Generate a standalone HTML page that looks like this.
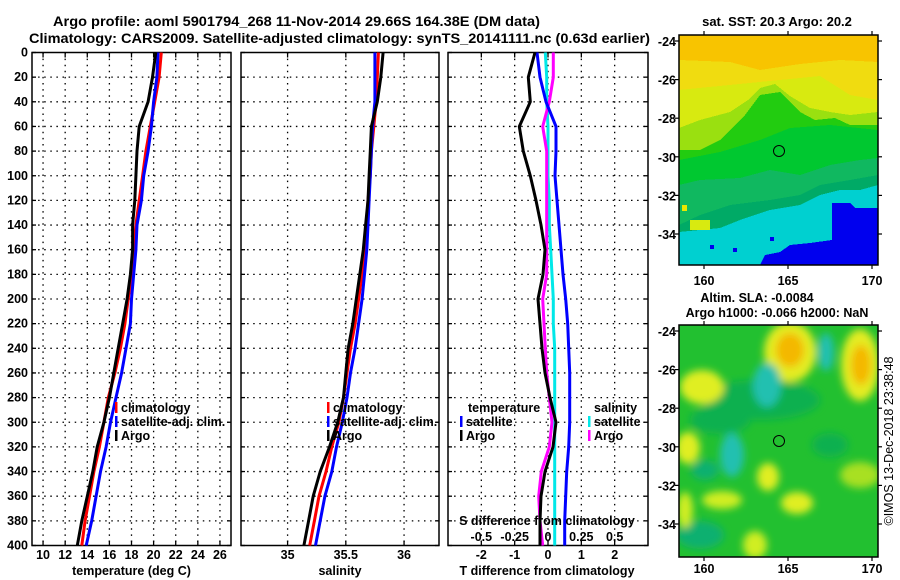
<!DOCTYPE html>
<html><head><meta charset="utf-8"><style>
html,body{margin:0;padding:0;background:#fff;}
svg{display:block;font-family:"Liberation Sans",Arial,sans-serif;font-weight:bold;}
</style></head><body>
<svg id="fig" width="900" height="580" viewBox="0 0 900 580" xmlns="http://www.w3.org/2000/svg">
<defs>
<filter id="blur6" x="-50%" y="-50%" width="200%" height="200%"><feGaussianBlur stdDeviation="4"/></filter>
<clipPath id="clipTop"><rect x="679" y="35" width="199" height="230"/></clipPath>
<clipPath id="clipBot"><rect x="679" y="325" width="199" height="232"/></clipPath>
</defs>
<text x="53" y="26" font-size="14" textLength="487" lengthAdjust="spacingAndGlyphs">Argo profile: aoml 5901794_268 11-Nov-2014 29.66S 164.38E (DM data)</text>
<text x="29" y="43" font-size="14" textLength="621" lengthAdjust="spacingAndGlyphs">Climatology: CARS2009. Satellite-adjusted climatology: synTS_20141111.nc (0.63d earlier)</text>

<!-- SST map -->
<g clip-path="url(#clipTop)" shape-rendering="crispEdges">
<rect x="679" y="35" width="199" height="230" fill="#f8c400"/>
<polygon fill="#d8ea10" points="679,72 720,70 760,78 790,74 820,76 850,95 878,100 878,265 679,265"/>
<polygon fill="#f0dc10" points="679,60 730,62 760,70 800,64 840,60 878,62 878,100 850,95 820,76 679,90"/>
<polygon fill="#9ae010" points="679,128 700,120 730,112 748,100 760,88 775,84 790,96 810,108 830,112 850,115 878,112 878,265 679,265"/>
<polygon fill="#22cc10" points="679,150 700,150 720,140 745,115 760,95 780,92 800,112 815,120 835,118 850,125 878,125 878,265 679,265"/>
<polygon fill="#00c830" points="679,160 720,152 760,140 790,128 830,125 878,130 878,265 679,265"/>
<polygon fill="#10b860" points="679,185 700,180 740,178 770,170 800,175 830,165 860,160 878,158 878,265 679,265"/>
<polygon fill="#00aa66" points="679,225 700,215 730,205 770,200 800,195 820,185 850,180 878,175 878,265 679,265"/>
<polygon fill="#00d0d0" points="679,232 720,228 740,220 770,210 800,205 820,195 840,190 860,190 878,185 878,265 679,265"/>
<polygon fill="#0000ee" points="832,203 850,203 855,208 878,208 878,265 760,265 765,255 780,252 790,245 810,243 832,240"/>
<rect x="682" y="205" width="5" height="6" fill="#e8e800"/>
<rect x="690" y="220" width="20" height="10" fill="#d8ea10"/>
<rect x="710" y="245" width="4" height="4" fill="#0000ee"/>
<rect x="733" y="248" width="4" height="4" fill="#0000ee"/>
<rect x="770" y="237" width="4" height="4" fill="#0000ee"/>
</g>
<rect x="679" y="35" width="199" height="230" fill="none" stroke="#000" stroke-width="1.5"/>
<circle cx="779" cy="151" r="5.5" fill="none" stroke="#000" stroke-width="1"/>

<!-- SLA map -->
<g clip-path="url(#clipBot)">
<rect x="679" y="325" width="199" height="232" fill="#22c030"/>
<g filter="url(#blur6)">
<ellipse cx="760" cy="400" rx="60" ry="20" fill="#10b050"/>
<ellipse cx="720" cy="420" rx="30" ry="14" fill="#10b050"/>
<ellipse cx="830" cy="445" rx="18" ry="12" fill="#10b050"/>
<ellipse cx="700" cy="535" rx="24" ry="14" fill="#10b070"/>
<ellipse cx="790" cy="352" rx="26" ry="30" fill="#e4ec20"/>
<ellipse cx="790" cy="350" rx="14" ry="17" fill="#f4b800"/>
<ellipse cx="860" cy="365" rx="19" ry="36" fill="#e4ec20"/>
<ellipse cx="861" cy="365" rx="10" ry="20" fill="#f4b800"/>
<ellipse cx="702" cy="387" rx="22" ry="17" fill="#e0ee20"/>
<ellipse cx="767" cy="385" rx="14" ry="22" fill="#20c0b0"/>
<ellipse cx="826" cy="352" rx="8" ry="19" fill="#20c0b0"/>
<ellipse cx="732" cy="455" rx="12" ry="22" fill="#20c0b0"/>
<ellipse cx="705" cy="470" rx="14" ry="10" fill="#10b070"/>
<ellipse cx="688" cy="448" rx="12" ry="16" fill="#e0ee20"/>
<ellipse cx="768" cy="477" rx="11" ry="14" fill="#e0ee20"/>
<ellipse cx="797" cy="503" rx="16" ry="11" fill="#e0ee20"/>
<ellipse cx="722" cy="500" rx="20" ry="9" fill="#d0ee20"/>
<ellipse cx="860" cy="475" rx="20" ry="13" fill="#a8e020"/>
<ellipse cx="755" cy="545" rx="12" ry="14" fill="#d0ee20"/>
<ellipse cx="685" cy="510" rx="8" ry="18" fill="#d0ee20"/>
</g>
</g>
<rect x="679" y="325" width="199" height="232" fill="none" stroke="#000" stroke-width="1.5"/>
<circle cx="779" cy="441" r="5.5" fill="none" stroke="#000" stroke-width="1"/>

<text x="777" y="26" font-size="13" text-anchor="middle">sat. SST: 20.3 Argo: 20.2</text>
<text x="757" y="302" font-size="12.5" text-anchor="middle">Altim. SLA: -0.0084</text>
<text x="777" y="317" font-size="12.5" text-anchor="middle">Argo h1000: -0.066 h2000: NaN</text>
<text transform="translate(893,441) rotate(-90)" font-size="12.5" font-weight="normal" text-anchor="middle">©IMOS 13-Dec-2018 23:38:48</text>
<g id="maplabels"></g>
<g id="panels"></g>
</svg>
<script>
// ---- data (depth grid in dbar) ----
const depths = [0,20,40,60,80,100,120,140,160,180,200,220,240,260,280,300,320,340,360,380,400];
const depthTicks = [0,20,40,60,80,100,120,140,160,180,200,220,240,260,280,300,320,340,360,380,400];
const tempTicks = [10,12,14,16,18,20,22,24,26];
const salTicks = [35,35.5,36];
const salTickLabels = ["35","35.5","36"];
const tdiffTicks = [-2,-1,0,1,2];
const sdiffTicks = [-0.5,-0.25,0,0.25,0.5];
const sdiffTickLabels = ["-0.5","-0.25","0","0.25","0.5"];

const tempClim = [20.7,20.5,20.1,19.7,19.3,19.0,18.7,18.4,18.2,18.0,17.7,17.4,17.0,16.5,15.9,15.5,15.1,14.6,14.2,13.8,13.5];
const tempSat  = [20.4,20.3,20.0,19.8,19.5,19.1,18.9,18.5,18.4,18.2,18.0,17.9,17.5,17.1,16.6,16.1,15.7,15.2,14.8,14.4,13.9];
const tempArgo = [20.2,19.9,19.5,18.7,18.5,18.4,18.3,18.1,18.1,17.9,17.6,17.2,16.8,16.4,16.0,15.5,14.9,14.5,14.0,13.5,13.1];

const salClim = [35.78,35.77,35.76,35.74,35.72,35.71,35.69,35.68,35.66,35.64,35.61,35.58,35.54,35.51,35.48,35.44,35.38,35.33,35.27,35.23,35.19];
const salSat  = [35.75,35.75,35.75,35.73,35.72,35.71,35.70,35.69,35.68,35.66,35.64,35.61,35.58,35.54,35.51,35.47,35.42,35.38,35.32,35.28,35.24];
const salArgo = [35.82,35.80,35.77,35.72,35.71,35.70,35.69,35.67,35.65,35.62,35.59,35.56,35.52,35.50,35.48,35.43,35.36,35.28,35.22,35.18,35.14];

const tdiffSat  = [-0.33,-0.24,-0.06,0.24,0.24,0.21,0.27,0.33,0.39,0.45,0.53,0.59,0.62,0.65,0.65,0.65,0.62,0.56,0.53,0.50,0.50];
const tdiffArgo = [-0.39,-0.59,-0.53,-0.86,-0.74,-0.53,-0.36,-0.21,-0.09,-0.15,-0.30,-0.24,-0.18,-0.09,0.06,0.24,0.15,-0.09,-0.21,-0.24,-0.24];
const sdiffSat  = [-0.02,-0.01,-0.01,0,0,0,0.01,0.01,0.02,0.03,0.04,0.04,0.05,0.05,0.05,0.05,0.05,0.05,0.05,0.05,0.05];
const sdiffArgo = [0.04,0.04,0.01,-0.04,-0.01,-0.01,-0.01,-0.01,-0.01,-0.01,-0.04,-0.03,-0.02,-0.01,0.01,0.03,0.01,-0.05,-0.07,-0.06,-0.04];

const latTicks = [-24,-26,-28,-30,-32,-34];
const lonTicks = [160,165,170];

const NS = "http://www.w3.org/2000/svg";
const Y0 = 52.5, Y1 = 545.5, DMAX = 400;
function yScale(d){ return Y0 + (d / DMAX) * (Y1 - Y0); }
function mk(tag, attrs, parent){ const e = document.createElementNS(NS, tag); for (const k in attrs) e.setAttribute(k, attrs[k]); parent.appendChild(e); return e; }
const root = document.getElementById('panels');

function panel(name, x0, x1, dmin, dmax){
  const g = mk('g', {}, root);
  
  
  const xs = v => x0 + (v - dmin) / (dmax - dmin) * (x1 - x0);
  return {g, xs, x0, x1};
}
function grid(p, xticks, name){
  const gg = mk('g', {stroke:'#000','stroke-width':1.3,'stroke-dasharray':'1.5,4.6'}, p.g);
  
  
  depthTicks.forEach(d => { if (d>0 && d<DMAX) mk('line',{x1:p.x0,x2:p.x1,y1:yScale(d),y2:yScale(d)},gg); });
  xticks.forEach(v => mk('line',{x1:p.xs(v),x2:p.xs(v),y1:Y0,y2:Y1},gg));
  const tk = mk('g',{stroke:'#000','stroke-width':1.3},p.g);
  depthTicks.forEach(d => { mk('line',{x1:p.x0,x2:p.x0+4,y1:yScale(d),y2:yScale(d)},tk); mk('line',{x1:p.x1-4,x2:p.x1,y1:yScale(d),y2:yScale(d)},tk); });
  xticks.forEach(v => { mk('line',{x1:p.xs(v),x2:p.xs(v),y1:Y1-5,y2:Y1},tk); mk('line',{x1:p.xs(v),x2:p.xs(v),y1:Y0,y2:Y0+5},tk); });
  const fr = mk('rect',{x:p.x0,y:Y0,width:p.x1-p.x0,height:Y1-Y0,fill:'none',stroke:'#000','stroke-width':1.5},p.g);
  
  
}
function line(p, vals, xs, color, name){
  let pts = [];
  vals.forEach((v,i) => { pts.push(xs(v).toFixed(1)+','+yScale(depths[i]).toFixed(1)); });
  const pl = mk('polyline',{points:pts.join(' '),fill:'none',stroke:color,'stroke-width':3,'stroke-linejoin':'round'},p.g);
  
  
}
function text(parent, x, y, s, size, anchor, name){
  const t = mk('text',{x:x,y:y,'font-size':size,'text-anchor':anchor||'start'},parent);
  t.textContent = s;
  
  
  return t;
}
function legend(parent, x, y, color, label, name){
  const b = mk('rect',{x:x,y:y-10,width:2.5,height:11,fill:color},parent);
  
  
  text(parent, x+6, y, label, 12.5, 'start', name + '-label');
}

// Panel 1: temperature
const p1 = panel('temperature-panel', 32, 231, 9, 27);
grid(p1, tempTicks, 'temperature');
line(p1, tempClim, p1.xs, '#ff0000', 'temp-climatology-line');
line(p1, tempSat, p1.xs, '#0000ff', 'temp-satellite-line');
line(p1, tempArgo, p1.xs, '#000000', 'temp-argo-line');
depthTicks.forEach(d => text(p1.g, 28, yScale(d)+4, String(d), 12.5, 'end', 'depth-tick-label'));
tempTicks.forEach(v => text(p1.g, p1.xs(v), 559, String(v), 12.5, 'middle', 'temp-tick-label'));
text(p1.g, 131.5, 575, 'temperature (deg C)', 12.5, 'middle', 'temp-x-axis-title');
legend(p1.g, 115, 412, '#ff0000', 'climatology', 'legend-climatology');
legend(p1.g, 115, 426, '#0000ff', 'satellite-adj. clim.', 'legend-satellite-adj');
legend(p1.g, 115, 440, '#000000', 'Argo', 'legend-argo');

// Panel 2: salinity
const p2 = panel('salinity-panel', 241, 439, 34.6, 36.3);
grid(p2, salTicks, 'salinity');
line(p2, salClim, p2.xs, '#ff0000', 'sal-climatology-line');
line(p2, salSat, p2.xs, '#0000ff', 'sal-satellite-line');
line(p2, salArgo, p2.xs, '#000000', 'sal-argo-line');
salTicks.forEach((v,i) => text(p2.g, p2.xs(v), 559, salTickLabels[i], 12.5, 'middle', 'sal-tick-label'));
text(p2.g, 340, 575, 'salinity', 12.5, 'middle', 'sal-x-axis-title');
legend(p2.g, 327, 412, '#ff0000', 'climatology', 'legend-sal-climatology');
legend(p2.g, 327, 426, '#0000ff', 'satellite-adj. clim.', 'legend-sal-satellite-adj');
legend(p2.g, 327, 440, '#000000', 'Argo', 'legend-sal-argo');

// Panel 3: differences
const p3 = panel('difference-panel', 448, 648, -3, 3);
const sxs = v => p3.xs(v*4);
grid(p3, tdiffTicks, 'difference');
line(p3, sdiffSat, sxs, '#00e8e8', 'sdiff-satellite-line');
line(p3, sdiffArgo, sxs, '#ff00ff', 'sdiff-argo-line');
line(p3, tdiffSat, p3.xs, '#0000ff', 'tdiff-satellite-line');
line(p3, tdiffArgo, p3.xs, '#000000', 'tdiff-argo-line');
tdiffTicks.forEach(v => text(p3.g, p3.xs(v), 559, String(v), 12.5, 'middle', 'tdiff-tick-label'));
text(p3.g, 547, 575, 'T difference from climatology', 12.5, 'middle', 'tdiff-x-axis-title');
text(p3.g, 547, 525, 'S difference from climatology', 12.5, 'middle', 'sdiff-axis-title');
sdiffTicks.forEach((v,i) => text(p3.g, sxs(v), 541, sdiffTickLabels[i], 12.5, 'middle', 'sdiff-tick-label'));
text(p3.g, 468, 412, 'temperature', 12.5, 'start', 'legend-temperature-heading');
legend(p3.g, 460, 426, '#0000ff', 'satellite', 'legend-tdiff-satellite');
legend(p3.g, 460, 440, '#000000', 'Argo', 'legend-tdiff-argo');
text(p3.g, 594, 412, 'salinity', 12.5, 'start', 'legend-salinity-heading');
legend(p3.g, 588, 426, '#00e8e8', 'satellite', 'legend-sdiff-satellite');
legend(p3.g, 588, 440, '#ff00ff', 'Argo', 'legend-sdiff-argo');

// Map axes
const ml = document.getElementById('maplabels');
function mapAxes(top, bottom, latTop, latStep, labY, name){
  const lonX = v => 704 + (v-160)*16.8;
  const latY = v => latTop + (-24 - v)/2 * latStep;
  latTicks.forEach(v => {
    text(ml, 676, latY(v)+5, String(v), 12.5, 'end', name + '-lat-label');
    mk('line',{x1:878,x2:882,y1:latY(v),y2:latY(v),stroke:'#000','stroke-width':1.2},ml);
    mk('line',{x1:675,x2:679,y1:latY(v),y2:latY(v),stroke:'#000','stroke-width':1.2},ml);
  });
  lonTicks.forEach(v => {
    text(ml, lonX(v), labY, String(v), 12.5, 'middle', name + '-lon-label');
    mk('line',{x1:lonX(v),x2:lonX(v),y1:top-4,y2:top,stroke:'#000','stroke-width':1.2},ml);
    mk('line',{x1:lonX(v),x2:lonX(v),y1:bottom,y2:bottom+4,stroke:'#000','stroke-width':1.2},ml);
  });
}
mapAxes(35, 265, 41, 38.6, 285, 'sst-map');
mapAxes(325, 557, 331, 38.6, 573, 'sla-map');
</script>
</body></html>
